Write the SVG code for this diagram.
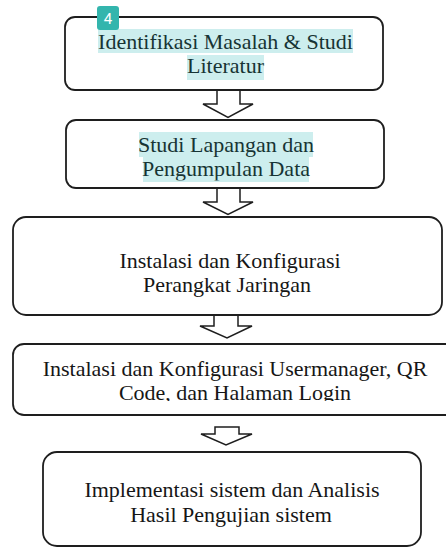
<svg xmlns="http://www.w3.org/2000/svg" width="446" height="548" viewBox="0 0 446 548">
<style>
.box{fill:#fff;stroke:#1e1e1e;stroke-width:1.8}
.arr{fill:#fff;stroke:#1e1e1e;stroke-width:1.5;stroke-linejoin:miter}
.t{font-family:"Liberation Serif","Times New Roman",serif;font-size:22px;fill:#161616;text-anchor:middle}
.th{fill:#173434}
.hl{fill:#cdeeee}
</style>
<defs>
<clipPath id="c2"><rect x="0" y="0" width="446" height="180.5"/></clipPath>
<clipPath id="c4"><rect x="0" y="0" width="446" height="401"/></clipPath>
</defs>
<rect width="446" height="548" fill="#fff"/>
<g id="connectors">
<polygon class="arr" points="217,90 240,90 240,104 253,104 228,117.5 203,104 217,104"/>
<polygon class="arr" points="217,188 240,188 240,202 253,202 228,214.5 203,202 217,202"/>
<polygon class="arr" points="214,315 238,315 238,326 252,326 227,338 200,326 214,326"/>
<polygon class="arr" points="215,427 239,427 239,434 252,434 226,445 201,434 215,434"/>
</g>
<g id="n1">
<rect class="box" x="65" y="17" width="318" height="73" rx="10"/>
<rect class="hl" x="98" y="29" width="255" height="24"/>
<rect class="hl" x="187" y="55" width="77" height="25"/>
<text class="t th" x="225.5" y="49">Identifikasi Masalah &amp; Studi</text>
<text class="t th" x="225.5" y="73">Literatur</text>
</g>
<g id="badge">
<rect x="97" y="6" width="22" height="24" rx="3" fill="#33b5ad"/>
<text x="108" y="24" font-family="Roboto,'Noto Sans',sans-serif" font-size="15" fill="#fff" text-anchor="middle">4</text>
</g>
<g id="n2">
<rect class="box" x="66" y="120" width="318" height="68" rx="10"/>
<rect class="hl" x="139" y="132" width="174" height="25"/>
<rect class="hl" x="143" y="157" width="166" height="25"/>
<text class="t th" x="226" y="152">Studi Lapangan dan</text>
<text class="t th" x="226" y="176" clip-path="url(#c2)">Pengumpulan Data</text>
</g>
<g id="n3">
<rect class="box" x="13" y="217" width="429" height="98" rx="13"/>
<text class="t" x="230" y="268">Instalasi dan Konfigurasi</text>
<text class="t" x="227" y="292">Perangkat Jaringan</text>
</g>
<g id="n4">
<rect class="box" x="13" y="344" width="445" height="71" rx="11"/>
<text class="t" x="235" y="376">Instalasi dan Konfigurasi Usermanager, QR</text>
<text class="t" x="235" y="400" clip-path="url(#c4)">Code, dan Halaman Login</text>
</g>
<g id="n5">
<rect class="box" x="43" y="452" width="378" height="94" rx="14"/>
<text class="t" x="232" y="497">Implementasi sistem dan Analisis</text>
<text class="t" x="231" y="522">Hasil Pengujian sistem</text>
</g>
</svg>
